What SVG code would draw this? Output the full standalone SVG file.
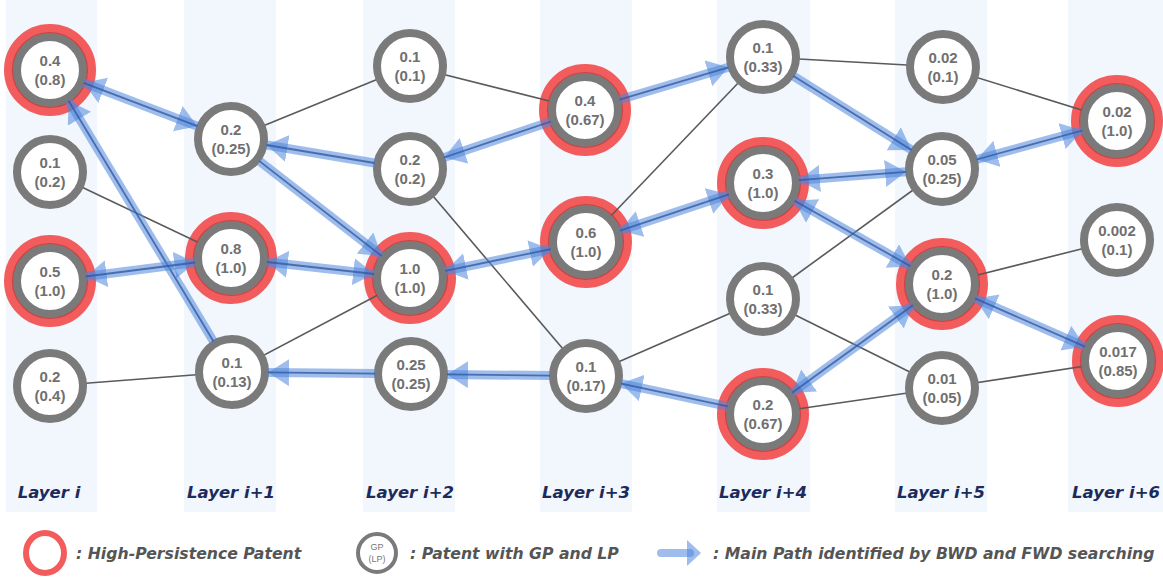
<svg xmlns="http://www.w3.org/2000/svg" width="1163" height="578" viewBox="0 0 1163 578">
  <style>
    .band { fill: #f2f6fd; }
    .layer { font-family: "DejaVu Sans", sans-serif; font-weight: bold; font-style: italic; font-size: 16.5px; fill: #1b2b5c; text-anchor: middle; }
    .hp { fill: none; stroke: #f25c5c; stroke-width: 10; }
    .hpedge { fill: none; stroke: #b83a3a; stroke-width: 1.2; stroke-opacity: 0.7; }
    .ring { fill: #ffffff; stroke: #7a7a7a; stroke-width: 8; }
    .val { font-family: "Liberation Sans", Arial, sans-serif; font-weight: bold; font-size: 15px; fill: #707070; text-anchor: middle; }
    .link { stroke: #5a5a5a; stroke-width: 1.6; fill: none; }
    .path { stroke: #4f86dc; stroke-opacity: 0.55; stroke-width: 9; fill: none; }
    .core { stroke: #34599e; stroke-opacity: 0.8; stroke-width: 1.8; fill: none; }
    .fwd { marker-end: url(#head); }
    .both { marker-start: url(#head); marker-end: url(#head); }
    .legend { font-family: "DejaVu Sans", sans-serif; font-weight: bold; font-style: italic; font-size: 15.7px; fill: #555555; }
  </style>
  <defs>
    <marker id="head" markerUnits="userSpaceOnUse" viewBox="0 0 21 27" refX="21" refY="13.5" markerWidth="21" markerHeight="27" orient="auto-start-reverse">
      <path d="M0,0 L21,13.5 L0,27 Z" fill="#4f86dc" fill-opacity="0.55"/>
    </marker>
  </defs>

  <!-- layer bands -->
  <g id="bands">
    <rect class="band" x="6" y="0" width="91" height="512"/>
    <rect class="band" x="184" y="0" width="92" height="512"/>
    <rect class="band" x="363" y="0" width="92" height="512"/>
    <rect class="band" x="540" y="0" width="92" height="512"/>
    <rect class="band" x="717" y="0" width="93" height="512"/>
    <rect class="band" x="895" y="0" width="92" height="512"/>
    <rect class="band" x="1068" y="0" width="95" height="512"/>
  </g>

  <g id="layer-labels">
    <text class="layer" x="49" y="498">Layer i</text>
    <text class="layer" x="231" y="498">Layer i+1</text>
    <text class="layer" x="410" y="498">Layer i+2</text>
    <text class="layer" x="586" y="498">Layer i+3</text>
    <text class="layer" x="763" y="498">Layer i+4</text>
    <text class="layer" x="941" y="498">Layer i+5</text>
    <text class="layer" x="1116" y="498">Layer i+6</text>
  </g>

  <!-- high-persistence halos -->
  <g id="halos">
    <circle class="hp" cx="50" cy="70" r="41"/>
    <circle class="hp" cx="50" cy="281" r="41"/>
    <circle class="hp" cx="231" cy="258" r="41"/>
    <circle class="hp" cx="410" cy="278" r="41"/>
    <circle class="hp" cx="585" cy="110" r="41"/>
    <circle class="hp" cx="586" cy="242" r="41"/>
    <circle class="hp" cx="763" cy="183" r="41"/>
    <circle class="hp" cx="763" cy="414" r="41"/>
    <circle class="hp" cx="942" cy="284" r="41"/>
    <circle class="hp" cx="1117" cy="121" r="41"/>
    <circle class="hp" cx="1118" cy="361" r="41"/>
  </g>

  <!-- citation links -->
  <g id="links">
    <line class="link" x1="50" y1="172" x2="231" y2="258"/>
    <line class="link" x1="50" y1="386" x2="232" y2="372"/>
    <line class="link" x1="231" y1="139" x2="410" y2="66"/>
    <line class="link" x1="232" y1="372" x2="410" y2="278"/>
    <line class="link" x1="410" y1="169" x2="586" y2="376"/>
    <line class="link" x1="410" y1="66" x2="585" y2="110"/>
    <line class="link" x1="586" y1="242" x2="763" y2="57"/>
    <line class="link" x1="586" y1="376" x2="763" y2="299"/>
    <line class="link" x1="763" y1="57" x2="943" y2="67"/>
    <line class="link" x1="763" y1="299" x2="942" y2="169"/>
    <line class="link" x1="763" y1="299" x2="942" y2="388"/>
    <line class="link" x1="763" y1="414" x2="942" y2="388"/>
    <line class="link" x1="943" y1="67" x2="1117" y2="121"/>
    <line class="link" x1="942" y1="284" x2="1117" y2="240"/>
    <line class="link" x1="942" y1="388" x2="1118" y2="361"/>
  </g>

  <!-- patent nodes -->
  <g id="n-i-1"><circle class="ring" cx="50" cy="70" r="33"/><circle class="hpedge" cx="50" cy="70" r="37.5"/></g>
  <g id="n-i-2"><circle class="ring" cx="50" cy="172" r="33"/></g>
  <g id="n-i-3"><circle class="ring" cx="50" cy="281" r="33"/><circle class="hpedge" cx="50" cy="281" r="37.5"/></g>
  <g id="n-i-4"><circle class="ring" cx="50" cy="386" r="33"/></g>
  <g id="n-i1-1"><circle class="ring" cx="231" cy="139" r="33"/></g>
  <g id="n-i1-2"><circle class="ring" cx="231" cy="258" r="33"/><circle class="hpedge" cx="231" cy="258" r="37.5"/></g>
  <g id="n-i1-3"><circle class="ring" cx="232" cy="372" r="33"/></g>
  <g id="n-i2-1"><circle class="ring" cx="410" cy="66" r="33"/></g>
  <g id="n-i2-2"><circle class="ring" cx="410" cy="169" r="33"/></g>
  <g id="n-i2-3"><circle class="ring" cx="410" cy="278" r="33"/><circle class="hpedge" cx="410" cy="278" r="37.5"/></g>
  <g id="n-i2-4"><circle class="ring" cx="411" cy="374" r="33"/></g>
  <g id="n-i3-1"><circle class="ring" cx="585" cy="110" r="33"/><circle class="hpedge" cx="585" cy="110" r="37.5"/></g>
  <g id="n-i3-2"><circle class="ring" cx="586" cy="242" r="33"/><circle class="hpedge" cx="586" cy="242" r="37.5"/></g>
  <g id="n-i3-3"><circle class="ring" cx="586" cy="376" r="33"/></g>
  <g id="n-i4-1"><circle class="ring" cx="763" cy="57" r="33"/></g>
  <g id="n-i4-2"><circle class="ring" cx="763" cy="183" r="33"/><circle class="hpedge" cx="763" cy="183" r="37.5"/></g>
  <g id="n-i4-3"><circle class="ring" cx="763" cy="299" r="33"/></g>
  <g id="n-i4-4"><circle class="ring" cx="763" cy="414" r="33"/><circle class="hpedge" cx="763" cy="414" r="37.5"/></g>
  <g id="n-i5-1"><circle class="ring" cx="943" cy="67" r="33"/></g>
  <g id="n-i5-2"><circle class="ring" cx="942" cy="169" r="33"/></g>
  <g id="n-i5-3"><circle class="ring" cx="942" cy="284" r="33"/><circle class="hpedge" cx="942" cy="284" r="37.5"/></g>
  <g id="n-i5-4"><circle class="ring" cx="942" cy="388" r="33"/></g>
  <g id="n-i6-1"><circle class="ring" cx="1117" cy="121" r="33"/><circle class="hpedge" cx="1117" cy="121" r="37.5"/></g>
  <g id="n-i6-2"><circle class="ring" cx="1117" cy="240" r="33"/></g>
  <g id="n-i6-3"><circle class="ring" cx="1118" cy="361" r="33"/><circle class="hpedge" cx="1118" cy="361" r="37.5"/></g>

  <!-- main path (BWD / FWD search) -->
  <g id="main-path">
    <line class="path both" x1="83.6" y1="82.8" x2="197.4" y2="126.2"/>
    <line class="core" x1="83.6" y1="82.8" x2="197.4" y2="126.2"/>
    <line class="path fwd" x1="213.4" y1="341.2" x2="68.6" y2="100.8"/>
    <line class="core" x1="213.4" y1="341.2" x2="68.6" y2="100.8"/>
    <line class="path fwd" x1="374.5" y1="163" x2="266.5" y2="145"/>
    <line class="core" x1="374.5" y1="163" x2="266.5" y2="145"/>
    <line class="path fwd" x1="259.4" y1="161.1" x2="381.6" y2="255.9"/>
    <line class="core" x1="259.4" y1="161.1" x2="381.6" y2="255.9"/>
    <line class="path both" x1="85.7" y1="276.5" x2="195.3" y2="262.5"/>
    <line class="core" x1="85.7" y1="276.5" x2="195.3" y2="262.5"/>
    <line class="path both" x1="266.8" y1="262" x2="374.2" y2="274"/>
    <line class="core" x1="266.8" y1="262" x2="374.2" y2="274"/>
    <line class="path both" x1="445.3" y1="270.8" x2="550.7" y2="249.2"/>
    <line class="core" x1="445.3" y1="270.8" x2="550.7" y2="249.2"/>
    <line class="path fwd" x1="375" y1="373.6" x2="268" y2="372.4"/>
    <line class="core" x1="375" y1="373.6" x2="268" y2="372.4"/>
    <line class="path fwd" x1="550" y1="375.6" x2="447" y2="374.4"/>
    <line class="core" x1="550" y1="375.6" x2="447" y2="374.4"/>
    <line class="path fwd" x1="727.8" y1="406.4" x2="621.2" y2="383.6"/>
    <line class="core" x1="727.8" y1="406.4" x2="621.2" y2="383.6"/>
    <line class="path fwd" x1="550.9" y1="121.5" x2="444.1" y2="157.5"/>
    <line class="core" x1="550.9" y1="121.5" x2="444.1" y2="157.5"/>
    <line class="path fwd" x1="619.5" y1="99.7" x2="728.5" y2="67.3"/>
    <line class="core" x1="619.5" y1="99.7" x2="728.5" y2="67.3"/>
    <line class="path both" x1="620.1" y1="230.6" x2="728.9" y2="194.4"/>
    <line class="core" x1="620.1" y1="230.6" x2="728.9" y2="194.4"/>
    <line class="path fwd" x1="793.5" y1="76.1" x2="911.5" y2="149.9"/>
    <line class="core" x1="793.5" y1="76.1" x2="911.5" y2="149.9"/>
    <line class="path both" x1="798.9" y1="180.2" x2="906.1" y2="171.8"/>
    <line class="core" x1="798.9" y1="180.2" x2="906.1" y2="171.8"/>
    <line class="path both" x1="794.4" y1="200.7" x2="910.6" y2="266.3"/>
    <line class="core" x1="794.4" y1="200.7" x2="910.6" y2="266.3"/>
    <line class="path both" x1="792.1" y1="392.8" x2="912.9" y2="305.2"/>
    <line class="core" x1="792.1" y1="392.8" x2="912.9" y2="305.2"/>
    <line class="path both" x1="976.7" y1="159.5" x2="1082.3" y2="130.5"/>
    <line class="core" x1="976.7" y1="159.5" x2="1082.3" y2="130.5"/>
    <line class="path both" x1="975" y1="298.4" x2="1085" y2="346.6"/>
    <line class="core" x1="975" y1="298.4" x2="1085" y2="346.6"/>
  </g>

  <!-- node values: GP over (LP) -->
  <g id="values">
    <text class="val" x="50" y="66">0.4</text><text class="val" x="50" y="85">(0.8)</text>
    <text class="val" x="50" y="168">0.1</text><text class="val" x="50" y="187">(0.2)</text>
    <text class="val" x="50" y="277">0.5</text><text class="val" x="50" y="296">(1.0)</text>
    <text class="val" x="50" y="382">0.2</text><text class="val" x="50" y="401">(0.4)</text>
    <text class="val" x="231" y="135">0.2</text><text class="val" x="231" y="154">(0.25)</text>
    <text class="val" x="231" y="254">0.8</text><text class="val" x="231" y="273">(1.0)</text>
    <text class="val" x="232" y="368">0.1</text><text class="val" x="232" y="387">(0.13)</text>
    <text class="val" x="410" y="62">0.1</text><text class="val" x="410" y="81">(0.1)</text>
    <text class="val" x="410" y="165">0.2</text><text class="val" x="410" y="184">(0.2)</text>
    <text class="val" x="410" y="274">1.0</text><text class="val" x="410" y="293">(1.0)</text>
    <text class="val" x="411" y="370">0.25</text><text class="val" x="411" y="389">(0.25)</text>
    <text class="val" x="585" y="106">0.4</text><text class="val" x="585" y="125">(0.67)</text>
    <text class="val" x="586" y="238">0.6</text><text class="val" x="586" y="257">(1.0)</text>
    <text class="val" x="586" y="372">0.1</text><text class="val" x="586" y="391">(0.17)</text>
    <text class="val" x="763" y="53">0.1</text><text class="val" x="763" y="72">(0.33)</text>
    <text class="val" x="763" y="179">0.3</text><text class="val" x="763" y="198">(1.0)</text>
    <text class="val" x="763" y="295">0.1</text><text class="val" x="763" y="314">(0.33)</text>
    <text class="val" x="763" y="410">0.2</text><text class="val" x="763" y="429">(0.67)</text>
    <text class="val" x="943" y="63">0.02</text><text class="val" x="943" y="82">(0.1)</text>
    <text class="val" x="942" y="165">0.05</text><text class="val" x="942" y="184">(0.25)</text>
    <text class="val" x="942" y="280">0.2</text><text class="val" x="942" y="299">(1.0)</text>
    <text class="val" x="942" y="384">0.01</text><text class="val" x="942" y="403">(0.05)</text>
    <text class="val" x="1117" y="117">0.02</text><text class="val" x="1117" y="136">(1.0)</text>
    <text class="val" x="1117" y="236">0.002</text><text class="val" x="1117" y="255">(0.1)</text>
    <text class="val" x="1118" y="357">0.017</text><text class="val" x="1118" y="376">(0.85)</text>
  </g>

  <!-- legend -->
  <g id="legend">
    <ellipse cx="45" cy="553" rx="19" ry="20" fill="none" stroke="#f25c5c" stroke-width="6"/>
    <text class="legend" x="76" y="559">: High-Persistence Patent</text>
    <circle cx="377" cy="553" r="19" fill="#ffffff" stroke="#7a7a7a" stroke-width="4"/>
    <text x="377" y="550" font-family="Liberation Sans, Arial, sans-serif" font-size="9" fill="#777777" text-anchor="middle">GP</text>
    <text x="377" y="562" font-family="Liberation Sans, Arial, sans-serif" font-size="9" fill="#777777" text-anchor="middle">(LP)</text>
    <text class="legend" x="410" y="559">: Patent with GP and LP</text>
    <line x1="661" y1="553" x2="690" y2="553" stroke="#4f86dc" stroke-opacity="0.55" stroke-width="8" stroke-linecap="round"/>
    <path d="M687,540 L701,553 L687,566 Z" fill="#4f86dc" fill-opacity="0.55"/>
    <text class="legend" x="713" y="559">: Main Path identified by BWD and FWD searching</text>
  </g>
</svg>
